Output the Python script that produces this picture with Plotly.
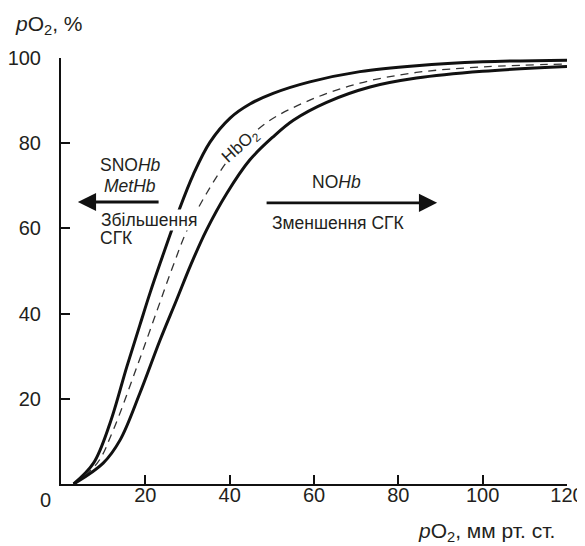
import plotly.graph_objects as go

# Data
left_x = [3, 7.7, 11.6, 15.6, 18.7, 21.1, 23.5, 27.8, 31.4, 35.3, 40.1, 44.8, 50.3, 59.0, 70.9, 84.3, 100, 120]
left_y = [0, 4.9, 14.2, 27.5, 37.3, 44.8, 51.8, 63.8, 72.7, 80.2, 85.9, 89.2, 91.7, 94.4, 96.8, 98.2, 99.1, 99.5]

mid_x = [3, 8.6, 12.4, 18.0, 22.7, 26.5, 30.0, 34.5, 39.3, 42.4, 49.0, 59.0, 70.9, 84.3, 100, 120]
mid_y = [0, 4.9, 12.7, 27.5, 40.5, 51.0, 59.8, 68.2, 75.6, 79.2, 85.0, 90.1, 94.1, 96.6, 97.9, 98.6]

right_x = [3, 10.0, 14.0, 18.7, 23.5, 27.4, 30.8, 34.5, 39.3, 44.8, 50.3, 55.1, 63.0, 73.3, 84.3, 100, 120]
right_y = [0, 4.9, 10.3, 21.3, 33.8, 43.2, 51.5, 59.6, 68.2, 76.1, 81.5, 85.4, 89.6, 93.2, 95.3, 96.9, 98.0]

x_ticks = [20, 40, 60, 80, 100, 120]
y_ticks = [20, 40, 60, 80, 100]

FONT = "Liberation Sans, Arial, sans-serif"
TXT = "#231f20"
LINE = "#111111"

fig = go.Figure()
fig.add_trace(go.Scatter(x=left_x, y=left_y, mode="lines",
                         line=dict(color=LINE, width=3, shape="spline", smoothing=1.0)))
fig.add_trace(go.Scatter(x=mid_x, y=mid_y, mode="lines",
                         line=dict(color="#333333", width=1.3, dash="8px,6px", shape="spline", smoothing=1.0)))
fig.add_trace(go.Scatter(x=right_x, y=right_y, mode="lines",
                         line=dict(color=LINE, width=3, shape="spline", smoothing=1.0)))

ann = []
def txt(x, y, t, size=17.5, xanchor="center", ref="x", **kw):
    ann.append(dict(x=x, y=y, xref=ref if ref == "paper" else "x",
                    yref=ref if ref == "paper" else "y", text=t, showarrow=False,
                    xanchor=xanchor, yanchor="middle",
                    font=dict(family=FONT, size=size, color=TXT), **kw))

txt(-0.0316, -0.0376, "0", size=20, ref="paper")
txt(-0.0949, 1.0775, "<i>p</i>O<sub>2</sub>, %", size=21, xanchor="left", ref="paper")
txt(0.980, -0.112, "<i>p</i>O<sub>2</sub>, мм рт. ст.", size=21, xanchor="right", ref="paper")
txt(16.4, 74.9, "SNO<i>Hb</i>")
txt(16.4, 70.0, "<i>MetHb</i>")
txt(9.25, 62.0, "Збільшення", xanchor="left", bgcolor="white", borderpad=0)
txt(8.8, 57.7, "СГК", xanchor="left")
txt(65.4, 70.9, "NO<i>Hb</i>")
txt(65.7, 61.3, "Зменшення СГК")
txt(42.8, 79.3, "HbO<sub>2</sub>", size=17, textangle=-42, bgcolor="white", borderpad=0)

for hx, tx, y in [(4.0, 23.5, 66.2), (89.2, 48.4, 66.0)]:
    ann.append(dict(x=hx, y=y, ax=tx, ay=y, xref="x", yref="y", axref="x", ayref="y",
                    text="", showarrow=True, arrowhead=2, arrowsize=1.3, arrowwidth=2.8,
                    arrowcolor=LINE))

# the page body adds an 8px offset, so margins are shifted accordingly
fig.update_layout(
    width=585, height=546,
    margin=dict(l=53, r=26, t=50, b=70),
    plot_bgcolor="white", paper_bgcolor="white",
    showlegend=False,
    annotations=ann,
    font=dict(family=FONT, size=20, color=TXT),
)
fig.update_xaxes(range=[0, 120], tickvals=x_ticks, ticks="inside", ticklen=9, tickwidth=2,
                 tickcolor=LINE, showline=True, linecolor=LINE, linewidth=2,
                 showgrid=False, zeroline=False, ticklabelstandoff=-8, automargin=False,
                 tickfont=dict(size=20, color=TXT, family=FONT))
fig.update_yaxes(range=[0, 100], tickvals=y_ticks, ticks="inside", ticklen=9, tickwidth=2,
                 tickcolor=LINE, showline=True, linecolor=LINE, linewidth=2,
                 showgrid=False, zeroline=False, ticklabelstandoff=14, automargin=False,
                 tickfont=dict(size=20, color=TXT, family=FONT))

fig.write_html("out.html")
